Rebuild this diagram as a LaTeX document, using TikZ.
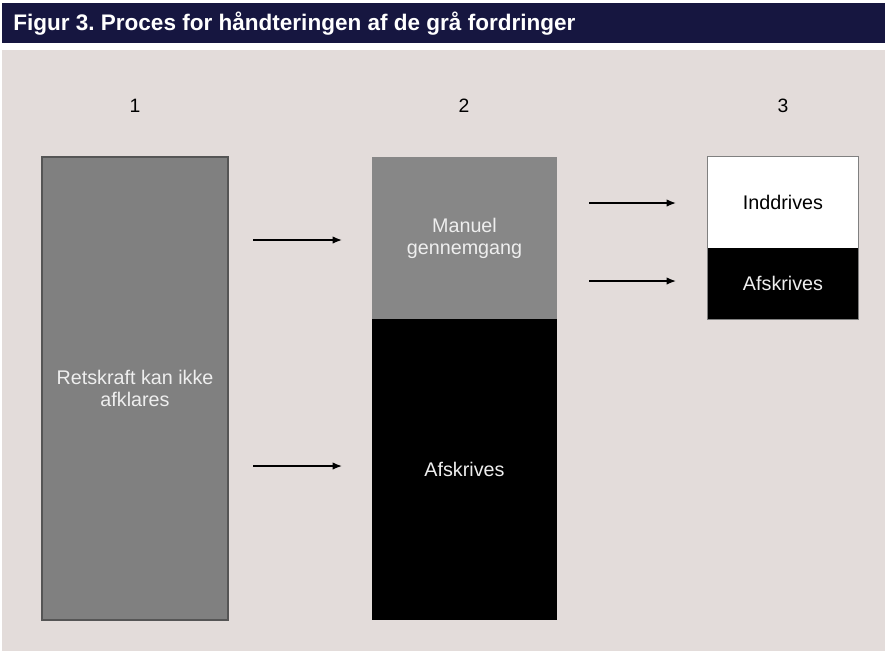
\documentclass[tikz,border=0pt]{standalone}
\usepackage{fontspec}
\setmainfont{Liberation Sans}
\usetikzlibrary{arrows.meta}
\frenchspacing
\definecolor{navy}{HTML}{161640}
\definecolor{panel}{HTML}{E3DCDA}
\definecolor{boxgray}{HTML}{808080}
\definecolor{boxgrayb}{HTML}{878787}
\definecolor{edgegray}{HTML}{555555}
\definecolor{softwhite}{HTML}{EEEEEE}
\tikzset{
  part/.style={rectangle, inner sep=0pt, align=center, font=\fontsize{14.8pt}{16.5pt}\selectfont},
  graybox/.style={part, fill=boxgray, draw=edgegray, line width=0.8pt, text=softwhite},
  graybox2/.style={part, fill=boxgrayb, text=softwhite},
  blackbox/.style={part, fill=black, text=softwhite},
  whitebox/.style={part, fill=white, text=black},
  colnum/.style={font=\fontsize{14.5pt}{16pt}\selectfont, text=black, inner sep=0pt},
  flow/.style={-{Latex[length=7pt,width=5.5pt]}, line width=1pt, black},
}
\begin{document}
\begin{tikzpicture}[x=0.75pt, y=-0.75pt]
\useasboundingbox (0,0) rectangle (885,651);
\fill[white] (0,0) rectangle (885,651);
\fill[navy] (2,3) rectangle (885,43);
\fill[panel] (2,50) rectangle (885,651);
\node[anchor=base west, inner sep=0pt, text=white, font=\fontsize{16.9pt}{18pt}\selectfont\bfseries] (title) at (13,30) {Figur 3. Proces for håndteringen af de grå fordringer};

% column numbers
\node[colnum] (n1) at (135,106) {1};
\node[colnum] (n2) at (464,106) {2};
\node[colnum] (n3) at (783,106) {3};

% column 1
\node[graybox, minimum width=186*0.75pt, minimum height=463*0.75pt] (b1) at (135,388.5) {Retskraft kan ikke\\afklares};

% column 2
\node[graybox2, minimum width=185*0.75pt, minimum height=162*0.75pt] (b2a) at (464.5,238) {Manuel\\gennemgang};
\node[blackbox, minimum width=185*0.75pt, minimum height=301*0.75pt] (b2b) at (464.5,469.5) {Afskrives};

% column 3
\node[whitebox, minimum width=150*0.75pt, minimum height=91*0.75pt] (b3a) at (783,202.5) {Inddrives};
\node[blackbox, minimum width=150*0.75pt, minimum height=71*0.75pt] (b3b) at (783,283.5) {Afskrives};
\draw[gray, line width=0.5pt] (b3a.north west) rectangle (b3b.south east);

% arrows
\coordinate (a1s) at (253,240); \coordinate (a1e) at (342,240);
\coordinate (a2s) at (253,466); \coordinate (a2e) at (342,466);
\coordinate (a3s) at (589,203); \coordinate (a3e) at (676,203);
\coordinate (a4s) at (589,281); \coordinate (a4e) at (676,281);
\draw[flow] (a1s) -- (a1e);
\draw[flow] (a2s) -- (a2e);
\draw[flow] (a3s) -- (a3e);
\draw[flow] (a4s) -- (a4e);
\end{tikzpicture}
\end{document}
